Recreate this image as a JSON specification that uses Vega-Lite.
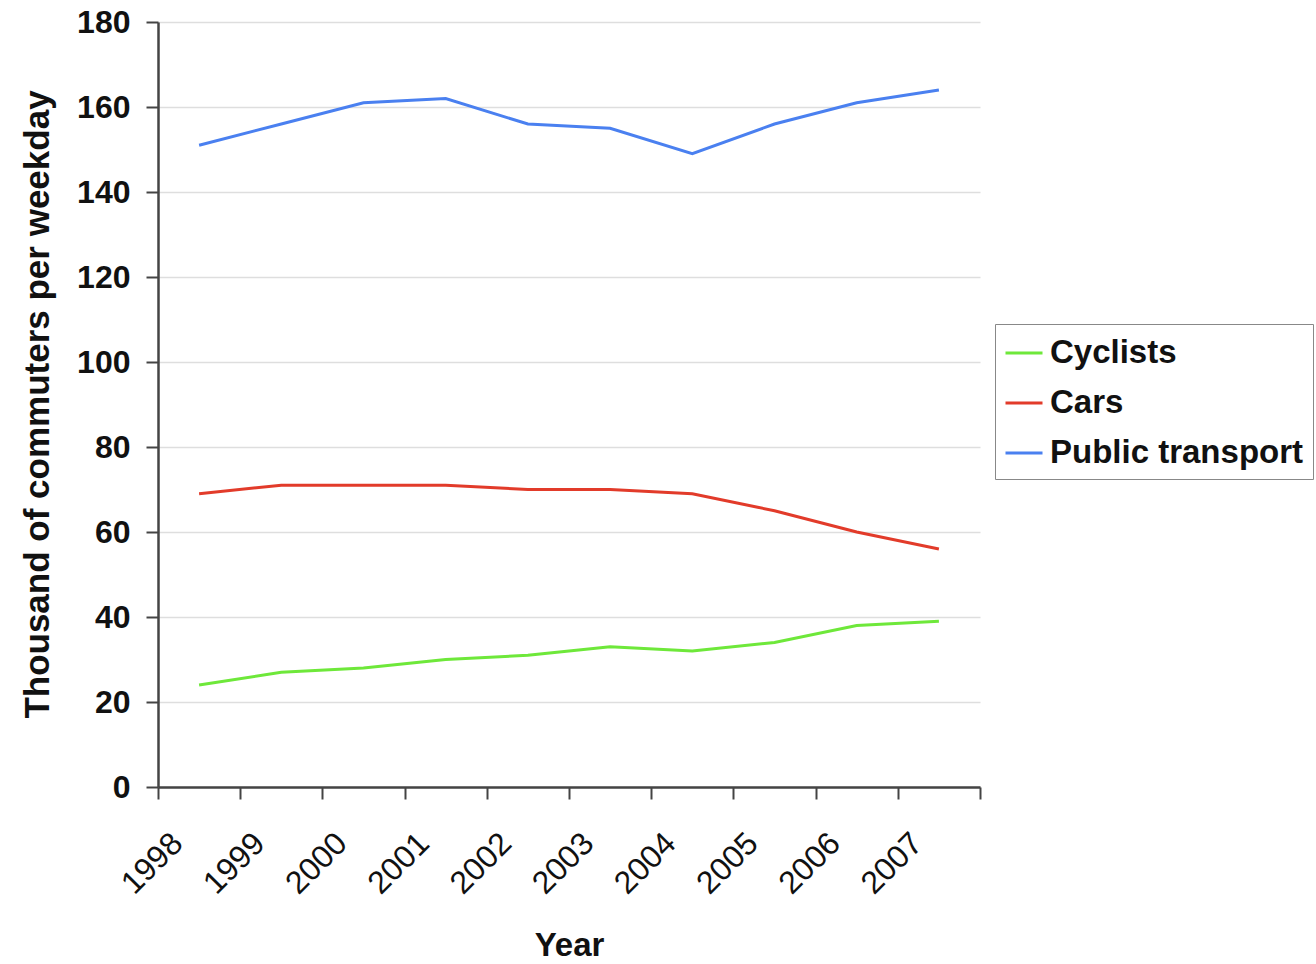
{
  "$schema": "https://vega.github.io/schema/vega-lite/v6.json",
  "width": 822,
  "height": 765,
  "autosize": "none",
  "padding": {"left": 158, "top": 22, "right": 336, "bottom": 177},
  "background": "white",
  "config": {
    "view": {"stroke": null},
    "font": "Liberation Sans"
  },
  "data": {
    "values": [
      {"Year": 1998, "Mode": "Cyclists", "Value": 24},
      {"Year": 1999, "Mode": "Cyclists", "Value": 27},
      {"Year": 2000, "Mode": "Cyclists", "Value": 28},
      {"Year": 2001, "Mode": "Cyclists", "Value": 30},
      {"Year": 2002, "Mode": "Cyclists", "Value": 31},
      {"Year": 2003, "Mode": "Cyclists", "Value": 33},
      {"Year": 2004, "Mode": "Cyclists", "Value": 32},
      {"Year": 2005, "Mode": "Cyclists", "Value": 34},
      {"Year": 2006, "Mode": "Cyclists", "Value": 38},
      {"Year": 2007, "Mode": "Cyclists", "Value": 39},
      {"Year": 1998, "Mode": "Cars", "Value": 69},
      {"Year": 1999, "Mode": "Cars", "Value": 71},
      {"Year": 2000, "Mode": "Cars", "Value": 71},
      {"Year": 2001, "Mode": "Cars", "Value": 71},
      {"Year": 2002, "Mode": "Cars", "Value": 70},
      {"Year": 2003, "Mode": "Cars", "Value": 70},
      {"Year": 2004, "Mode": "Cars", "Value": 69},
      {"Year": 2005, "Mode": "Cars", "Value": 65},
      {"Year": 2006, "Mode": "Cars", "Value": 60},
      {"Year": 2007, "Mode": "Cars", "Value": 56},
      {"Year": 1998, "Mode": "Public transport", "Value": 151},
      {"Year": 1999, "Mode": "Public transport", "Value": 156},
      {"Year": 2000, "Mode": "Public transport", "Value": 161},
      {"Year": 2001, "Mode": "Public transport", "Value": 162},
      {"Year": 2002, "Mode": "Public transport", "Value": 156},
      {"Year": 2003, "Mode": "Public transport", "Value": 155},
      {"Year": 2004, "Mode": "Public transport", "Value": 149},
      {"Year": 2005, "Mode": "Public transport", "Value": 156},
      {"Year": 2006, "Mode": "Public transport", "Value": 161},
      {"Year": 2007, "Mode": "Public transport", "Value": 164}
    ]
  },
  "mark": {"type": "line", "strokeWidth": 3, "xOffset": 41.1, "clip": false},
  "encoding": {
    "x": {
      "field": "Year",
      "type": "quantitative",
      "scale": {"domain": [1998, 2008], "nice": false, "zero": false},
      "axis": {
        "values": [1998, 1999, 2000, 2001, 2002, 2003, 2004, 2005, 2006, 2007, 2008],
        "format": "d",
        "labelExpr": "datum.value == 2008 ? '' : datum.label",
        "labelAngle": -45,
        "labelAlign": "right",
        "labelBaseline": "alphabetic",
        "labelOffset": 26,
        "labelPadding": 46,
        "labelFontSize": 32,
        "labelColor": "#111",
        "labelFlush": false,
        "labelOverlap": false,
        "labelBound": false,
        "tickSize": 12,
        "tickWidth": 2,
        "tickColor": "#444",
        "domainColor": "#444",
        "domainWidth": 2.5,
        "grid": false,
        "title": "Year",
        "titleFontSize": 33,
        "titleFontWeight": "bold",
        "titleColor": "#111",
        "titleY": 168,
        "titleBaseline": "alphabetic"
      }
    },
    "y": {
      "field": "Value",
      "type": "quantitative",
      "scale": {"domain": [0, 180], "nice": false},
      "axis": {
        "values": [0, 20, 40, 60, 80, 100, 120, 140, 160, 180],
        "labelFontSize": 32,
        "labelFontWeight": "bold",
        "labelColor": "#111",
        "labelPadding": 16,
        "tickSize": 12,
        "tickWidth": 2,
        "tickColor": "#444",
        "domainColor": "#444",
        "domainWidth": 2.5,
        "grid": true,
        "gridColor": "#dedede",
        "gridWidth": 1.5,
        "title": "Thousand of commuters per weekday",
        "titleFontSize": 35,
        "titleFontWeight": "bold",
        "titleColor": "#111",
        "titleX": -110,
        "titleY": 382,
        "titleAngle": -90,
        "titleBaseline": "alphabetic",
        "titleAlign": "center"
      }
    },
    "color": {
      "field": "Mode",
      "type": "nominal",
      "scale": {
        "domain": ["Cyclists", "Cars", "Public transport"],
        "range": ["#6ee83a", "#e23b2a", "#4a80f0"]
      },
      "legend": {
        "title": null,
        "orient": "none",
        "legendX": 837,
        "legendY": 302,
        "symbolType": "stroke",
        "symbolSize": 1369,
        "symbolStrokeWidth": 3,
        "labelFontSize": 33,
        "labelFontWeight": "bold",
        "labelColor": "#111",
        "labelOffset": 6,
        "labelLimit": 400,
        "rowPadding": 13,
        "padding": 9,
        "strokeColor": "#888",
        "fillColor": "white",
        "cornerRadius": 0
      }
    }
  }
}
